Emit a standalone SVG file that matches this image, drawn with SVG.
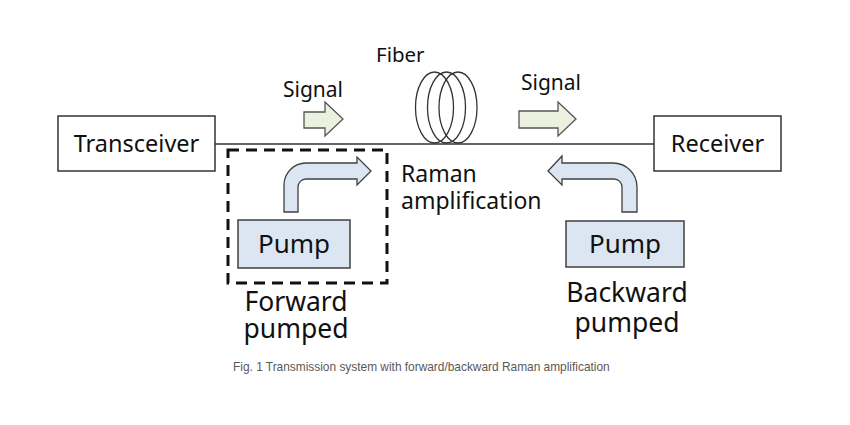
<svg xmlns="http://www.w3.org/2000/svg" width="850" height="425" viewBox="0 0 850 425">
<style>
.t{font-family:"Noto Sans","DejaVu Sans",sans-serif;fill:#111}
.box{fill:#fff;stroke:#333;stroke-width:1.5}
.pump{fill:#dce6f2;stroke:#404040;stroke-width:1.5}
.sig{fill:#ebf1de;stroke:#555;stroke-width:1.3;stroke-linejoin:miter}
.bent{fill:#dce6f2;stroke:#404040;stroke-width:1.3}
.coil{fill:none;stroke:#333;stroke-width:1.3}
.cap{font-family:"Liberation Sans",Arial,sans-serif;fill:#595959;font-size:11.9px}
</style>
<rect width="850" height="425" fill="#fff"/>
<g id="connectors">
<line x1="215" y1="144" x2="654" y2="144" stroke="#333" stroke-width="1.5"/>
</g>
<g id="transceiver">
<rect class="box" x="58" y="116" width="157" height="55"/>
<text class="t" x="136.5" y="152" font-size="23.5" text-anchor="middle">Transceiver</text>
</g>
<g id="receiver">
<rect class="box" x="654" y="116" width="127" height="55"/>
<text class="t" x="717.5" y="152" font-size="23.5" text-anchor="middle">Receiver</text>
</g>
<g id="fiber">
<ellipse class="coil" cx="434.5" cy="107.5" rx="19" ry="35.5"/>
<ellipse class="coil" cx="446.5" cy="107.5" rx="19" ry="35.5"/>
<ellipse class="coil" cx="458" cy="107.5" rx="19" ry="35.5"/>
<text class="t" x="376" y="62" font-size="20.5">Fiber</text>
</g>
<g id="signal-1">
<path class="sig" d="M304 112 L325 112 L325 102 L343 119 L325 136 L325 128 L304 128 Z"/>
<text class="t" x="283" y="97" font-size="21">Signal</text>
</g>
<g id="signal-2">
<path class="sig" d="M519 111 L558 111 L558 102 L576 119 L558 136 L558 128 L519 128 Z"/>
<text class="t" x="521" y="90" font-size="21">Signal</text>
</g>
<g id="forward-pump">
<rect x="228" y="150" width="159" height="133" fill="none" stroke="#111" stroke-width="3" stroke-dasharray="11 7"/>
<path class="bent" d="M284 212 L284 185 A22 22 0 0 1 306 163 L357 163 L357 157 L371 171 L357 185 L357 179 L306 179 A8 8 0 0 0 298 187 L298 212 Z"/>
<rect class="pump" x="238" y="220" width="112" height="48"/>
<text class="t" x="294" y="253" font-size="26" text-anchor="middle">Pump</text>
<text class="t" font-size="26.5" text-anchor="middle"><tspan x="296" y="311">Forward</tspan><tspan x="296" y="338">pumped</tspan></text>
</g>
<g id="raman">
<text class="t" font-size="23"><tspan x="401" y="182">Raman</tspan><tspan x="401" y="209">amplification</tspan></text>
</g>
<g id="backward-pump">
<path class="bent" d="M622 212 L622 187 A8 8 0 0 0 614 179 L562 179 L562 185 L548 171 L562 156 L562 163 L613 163 A24 24 0 0 1 637 187 L637 212 Z"/>
<rect class="pump" x="566" y="221" width="118" height="46"/>
<text class="t" x="625" y="253" font-size="26" text-anchor="middle">Pump</text>
<text class="t" font-size="26.5" text-anchor="middle"><tspan x="627" y="302">Backward</tspan><tspan x="627" y="332">pumped</tspan></text>
</g>
<g id="caption">
<text class="cap" x="233" y="371">Fig. 1 Transmission system with forward/backward Raman amplification</text>
</g>
</svg>
